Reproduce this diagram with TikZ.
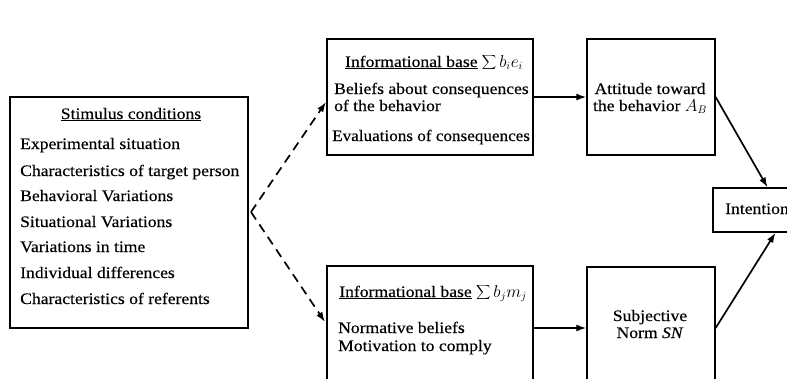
\documentclass[tikz,border=0pt]{standalone}
\usepackage{fontspec}
\setmainfont[FakeStretch=1.1,FakeBold=0.3]{Liberation Serif}
\usetikzlibrary{arrows.meta}
\begin{document}
\begin{tikzpicture}[x=1pt,y=-1pt,
  box/.style={draw, line width=1.3pt, inner sep=0pt},
  txt/.style={anchor=base west, inner sep=0pt, font=\fontsize{16}{18}\selectfont},
  ctxt/.style={anchor=base, inner sep=0pt, font=\fontsize{16}{18}\selectfont},
  flow/.style={line width=1.7pt, -{Latex[length=10pt,width=7pt]}},
  dflow/.style={flow, dash pattern=on 9pt off 6pt}]
\useasboundingbox (0,0) rectangle (787,378);
\clip (0,0) rectangle (787,378);

% boxes
\node[box, minimum width=238pt, minimum height=231pt] (stim) at (129,212.5) {};
\node[box, minimum width=206pt, minimum height=116pt] (info1) at (430,97) {};
\node[box, minimum width=206pt, minimum height=124pt] (info2) at (430,328) {};
\node[box, minimum width=128pt, minimum height=116pt] (att) at (651,97) {};
\node[box, minimum width=128pt, minimum height=122pt] (sn) at (651,328) {};
\node[box, minimum width=97pt, minimum height=44pt] (int) at (761.5,210) {};

% stimulus conditions
\node[ctxt] (stimT) at (131,119) {\underline{Stimulus conditions}};
\node[txt] (s1) at (20,149) {Experimental situation};
\node[txt] (s2) at (20,176) {Characteristics of target person};
\node[txt] (s3) at (20,201) {Behavioral Variations};
\node[txt] (s4) at (20,227) {Situational Variations};
\node[txt] (s5) at (20,252) {Variations in time};
\node[txt] (s6) at (20,278) {Individual differences};
\node[txt] (s7) at (20,304) {Characteristics of referents};

% informational base, attitude
\node[ctxt] (i1T) at (434,67) {\underline{Informational base} $\displaystyle\sum\nolimits b_i e_i$};
\node[txt] (i1a) at (334,94) {Beliefs about consequences};
\node[txt] (i1b) at (334,111) {of the behavior};
\node[txt] (i1c) at (332,141) {\addfontfeature{FakeStretch=1.07}Evaluations of consequences};

% informational base, norm
\node[ctxt] (i2T) at (433,297) {\underline{Informational base} $\displaystyle\sum\nolimits b_j m_j$};
\node[txt] (i2a) at (338,333) {Normative beliefs};
\node[txt] (i2b) at (338,351) {Motivation to comply};

% attitude, norm, intention
\node[ctxt] (attA) at (650,94) {Attitude toward};
\node[ctxt] (attB) at (650,111) {the behavior $A_B$};
\node[ctxt] (snA) at (650,321) {Subjective};
\node[ctxt] (snB) at (650,338) {Norm \textit{SN}};
\node[txt] (intT) at (725,214) {Intention};

% connectors
\coordinate (fork) at (251,212);
\draw[dflow] (fork) -- (326,102);
\draw[dflow] (fork) -- (325,322);
\draw[flow] (info1.east) -- (att.west);
\draw[flow] (info2.east |- sn.west) -- (sn.west);
\draw[flow] (att.east) -- ([xshift=6pt]int.north);
\draw[flow] (sn.east) -- ([xshift=14pt]int.south);
\end{tikzpicture}
\end{document}
